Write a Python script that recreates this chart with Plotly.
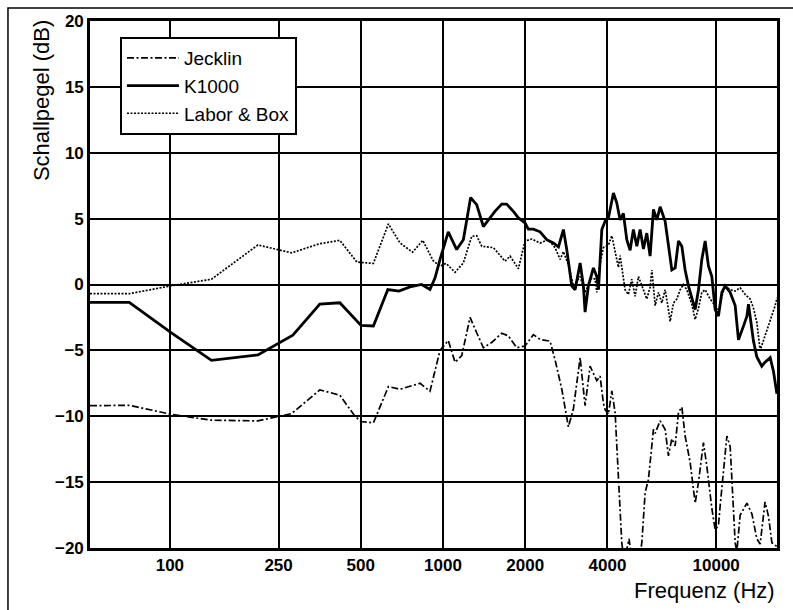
import plotly.graph_objects as go
import math

# Frequency response measurements (Hz, dB)
jecklin_f = [51, 71, 101, 142, 210, 279, 354, 419, 476, 501, 556, 631, 696, 824, 896,
             975, 1045, 1107, 1171, 1256, 1328, 1405, 1507, 1640, 1734, 1862, 1996, 2142,
             2266, 2465, 2571, 2722, 2877, 3000, 3177, 3312, 3455, 3656, 3758, 3865, 3921,
             4032, 4149, 4266, 4513, 4600, 4800, 4900, 5268, 5344, 5495, 5649, 5894, 5979,
             6237, 6504, 6688, 6882, 7077, 7278, 7488, 7698, 8031, 8378, 8615, 8984, 9245,
             9643, 9915, 10195, 10342, 10944, 11253, 11737, 11900, 12243, 12957, 13512,
             14093, 14488, 15101, 15545, 15996, 16446, 16728]
jecklin_db = [-9.2, -9.17, -9.85, -10.3, -10.35, -9.8, -8.0, -8.4, -10.0, -10.4, -10.5,
              -7.75, -7.95, -7.5, -8.1, -5.0, -4.25, -5.9, -5.4, -2.5, -3.66, -4.8, -4.4,
              -3.7, -3.9, -4.8, -4.67, -3.8, -4.17, -4.3, -5.7, -7.95, -10.8, -9.47, -5.55,
              -9.2, -6.2, -7.3, -6.95, -9.0, -9.5, -9.85, -8.08, -9.72, -19.6, -21.0, -19.3,
              -21.0, -20.5, -19.6, -15.8, -14.8, -11.0, -11.3, -10.35, -11.0, -13.0, -11.7,
              -12.25, -9.7, -9.3, -11.5, -13.5, -16.6, -15.0, -12.0, -13.8, -17.0, -18.6,
              -18.3, -16.8, -11.5, -12.3, -19.6, -20.3, -17.5, -16.6, -17.4, -19.3, -19.7,
              -16.5, -17.6, -19.6, -19.8, -19.9]

k1000_f = [51, 71, 101, 142, 210, 252, 282, 354, 419, 501, 556, 628, 690, 757, 835, 896,
           935, 975, 1045, 1122, 1187, 1262, 1328, 1405, 1486, 1549, 1640, 1710, 1809, 1888,
           1996, 2053, 2142, 2266, 2397, 2535, 2646, 2759, 2838, 2960, 3045, 3177, 3266,
           3312, 3406, 3553, 3656, 3708, 3814, 3921, 4032, 4205, 4326, 4449, 4575, 4707,
           4842, 4977, 5123, 5268, 5417, 5572, 5730, 5894, 6065, 6237, 6504, 6688, 6882,
           7077, 7278, 7488, 7698, 7916, 8147, 8378, 8615, 8862, 9113, 9371, 9643, 9915,
           10195, 10491, 10789, 11253, 11737, 12069, 12589, 12957, 13132, 13697, 14093,
           14690, 15101, 15768, 16215, 16686]
k1000_db = [-1.35, -1.35, -3.66, -5.76, -5.35, -4.4, -3.85, -1.48, -1.39, -3.1, -3.15,
            -0.38, -0.5, -0.18, 0.0, -0.38, 0.5, 1.9, 4.0, 2.65, 3.4, 6.6, 6.06, 4.4, 5.05,
            5.55, 6.1, 6.1, 5.55, 5.05, 4.67, 4.2, 4.2, 4.0, 3.4, 3.15, 2.85, 4.17, 2.65,
            -0.1, -0.4, 1.64, -0.1, -2.1, -0.1, 1.26, 0.6, -0.4, 4.17, 4.8, 5.05, 6.95, 6.2,
            4.9, 5.4, 3.4, 2.6, 4.17, 2.9, 4.17, 2.7, 3.9, 2.15, 5.7, 4.9, 5.9, 4.8, 2.9,
            1.1, 1.26, 3.3, 2.9, 1.1, -0.1, -1.1, -1.9, -0.4, 1.9, 3.3, 1.4, 0.6, -1.9,
            -2.4, -0.6, -0.1, -0.6, -1.6, -4.2, -3.16, -2.4, -1.5, -4.3, -5.5, -6.2, -5.9,
            -5.55, -6.6, -8.3]

labor_f = [51, 71, 101, 142, 210, 279, 354, 419, 484, 556, 631, 696, 774, 843, 921, 975,
           1026, 1107, 1187, 1274, 1328, 1386, 1529, 1687, 1760, 1888, 1996, 2113, 2266,
           2430, 2571, 2684, 2759, 2877, 3000, 3177, 3312, 3505, 3605, 3656, 3758, 3865,
           4032, 4149, 4266, 4387, 4449, 4641, 4771, 4910, 5050, 5193, 5417, 5572, 5730,
           5816, 5979, 6147, 6325, 6504, 6688, 6784, 6976, 7178, 7380, 7586, 7809, 8147,
           8378, 8615, 8862, 9113, 9506, 9915, 10195, 10491, 10789, 11253, 11737, 12243,
           12771, 13320, 13697, 14093, 14488, 15101, 15768, 16446, 16728]
labor_db = [-0.7, -0.7, -0.1, 0.4, 3.0, 2.4, 3.1, 3.35, 1.7, 1.6, 4.6, 3.15, 2.45, 3.35,
            1.8, 1.4, 1.6, 0.93, 1.64, 3.66, 3.7, 2.9, 2.8, 1.77, 2.15, 1.2, 3.3, 3.45, 3.15,
            3.4, 2.8, 1.9, 2.5, 1.5, -0.1, 0.6, -0.6, 0.5, 0.4, -0.6, 1.6, 2.8, 3.0, 3.7,
            2.5, 1.3, 2.2, -0.4, -0.76, 0.4, -0.9, 0.6, -0.4, -1.1, -0.2, 1.1, -1.6, -0.6,
            -1.4, -0.4, -1.9, -2.8, -1.4, -1.1, -0.4, 0.0, -0.4, -1.5, -2.65, -1.8, -0.6,
            -0.4, -1.1, -1.6, -2.1, -0.9, -0.1, -0.4, -0.5, -0.25, -0.76, -1.1, -1.8, -2.9,
            -5.0, -3.9, -2.65, -1.6, -1.0]

x_ticks = [100, 250, 500, 1000, 2000, 4000, 10000]
y_ticks = [-20, -15, -10, -5, 0, 5, 10, 15, 20]
f_min, f_max = 51, 16700

FONT = "Liberation Sans, Arial, sans-serif"

fig = go.Figure()
fig.add_trace(go.Scatter(x=jecklin_f, y=jecklin_db, mode="lines", name="Jecklin",
                         legendgroup="a",
                         line=dict(color="black", width=1.7, dash="7px,2.5px,2px,2.5px")))
fig.add_trace(go.Scatter(x=k1000_f, y=k1000_db, mode="lines", name="K1000",
                         legendgroup="b",
                         line=dict(color="black", width=2.8)))
fig.add_trace(go.Scatter(x=labor_f, y=labor_db, mode="lines", name="Labor & Box",
                         legendgroup="c",
                         line=dict(color="black", width=1.7, dash="2px,1.5px")))

fig.update_xaxes(type="log", range=[math.log10(f_min), math.log10(f_max)],
                 tickvals=x_ticks, ticktext=[str(v) for v in x_ticks],
                 showgrid=True, gridcolor="black", gridwidth=1.6,
                 showline=True, linecolor="black", linewidth=2.6, mirror=True,
                 zeroline=False, ticks="",
                 tickfont=dict(family=FONT, size=17, color="black", weight="bold"))
fig.update_yaxes(range=[-20, 20], tickvals=y_ticks,
                 showgrid=True, gridcolor="black", gridwidth=1.6,
                 showline=True, linecolor="black", linewidth=2.6, mirror=True,
                 zeroline=False, ticks="",
                 tickfont=dict(family=FONT, size=17, color="black", weight="bold"))

fig.add_annotation(text="Schallpegel (dB)", textangle=-90, xref="paper", yref="paper",
                   x=-0.0713, y=0.848, xanchor="center", yanchor="middle", showarrow=False,
                   font=dict(family=FONT, size=22, color="black"))
fig.add_annotation(text="Frequenz (Hz)", xref="paper", yref="paper",
                   x=1.0, y=-0.0797, xanchor="right", yanchor="middle", showarrow=False,
                   font=dict(family=FONT, size=22, color="black"))

# outer frame around the figure
fig.add_shape(type="rect", xref="paper", yref="paper",
              x0=-0.1194, x1=1.06, y0=-0.14, y1=1.0247,
              line=dict(color="black", width=1.5), fillcolor="rgba(0,0,0,0)")

fig.update_layout(
    width=793, height=610,
    margin=dict(l=90, r=16, t=21, b=62),
    paper_bgcolor="white", plot_bgcolor="white",
    showlegend=True,
    legend=dict(x=0.0437, y=0.9696, xanchor="left", yanchor="top",
                bgcolor="white", bordercolor="black", borderwidth=2,
                font=dict(family=FONT, size=19, color="black"),
                itemwidth=52, tracegroupgap=4, traceorder="normal"),
)

fig.write_html("out.html")
